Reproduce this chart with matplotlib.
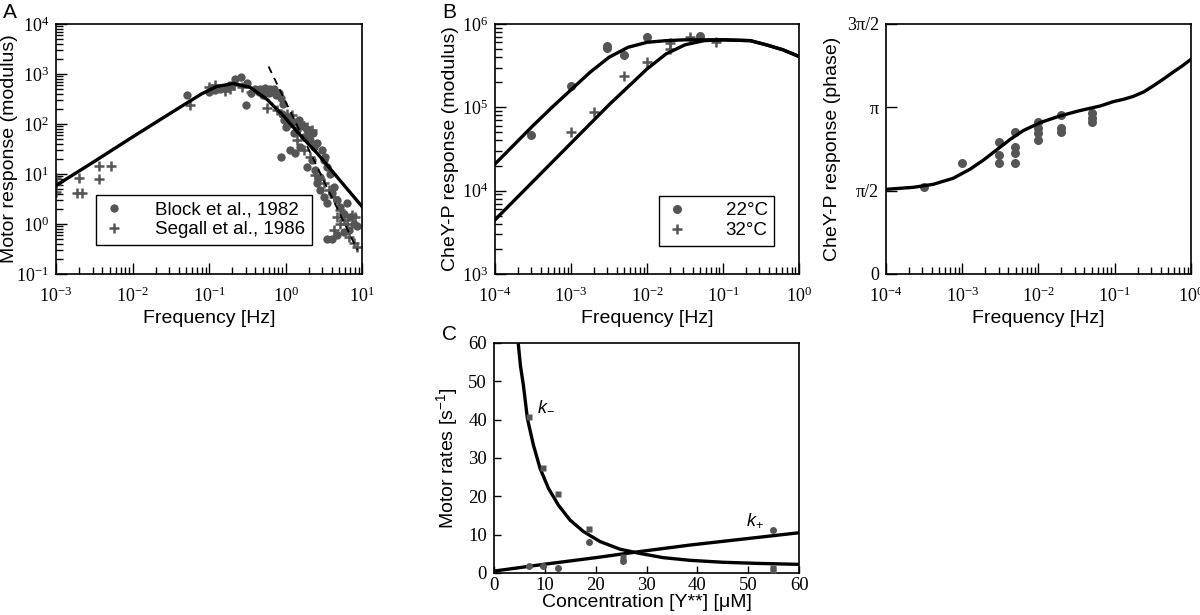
import numpy as np
import matplotlib
matplotlib.use("Agg")
import matplotlib.pyplot as plt
from matplotlib.ticker import LogLocator, NullFormatter, FixedLocator

SANS = "Liberation Sans"
SERIF = "Liberation Serif"
GREY = "#555555"
INK = "black"

plt.rcParams.update({
    "font.family": SANS,
    "mathtext.fontset": "custom",
    "mathtext.rm": SANS,
    "mathtext.it": SANS + ":italic",
    "axes.linewidth": 1.2,
})

# ---- panel A: motor response modulus ----
block_f = [0.052, 0.10, 0.12, 0.14, 0.17, 0.19, 0.22, 0.26, 0.31, 0.30,
           0.35, 0.40, 0.45, 0.47, 0.50, 0.54, 0.60, 0.63, 0.70, 0.71, 0.75, 0.81, 0.86, 0.93,
           0.90, 0.95, 1.0, 1.1, 1.16, 1.28, 1.3, 1.41, 1.5, 1.56, 1.7, 0.86, 1.16, 1.34,
           1.56, 1.73, 1.91, 2.0, 2.11, 2.3, 2.34, 2.58, 1.91, 2.22, 2.45, 2.58,
           2.86, 3.0, 3.16, 3.3, 3.49, 3.86, 2.86, 3.16, 3.49, 4.06, 4.27, 4.72,
           5.22, 5.77, 6.38, 7.05, 7.8, 3.49, 4.06, 4.72, 5.77, 6.7, 8.6]
block_r = [372, 427, 470, 490, 540, 600, 800, 880, 670, 245,
           410, 490, 440, 510, 380, 535, 420, 490, 500, 445, 380, 410, 325, 255,
           162, 120, 89, 100, 130, 65, 110, 76, 120, 95, 90, 22, 30, 26,
           35, 56, 76, 60, 48, 65, 35, 41, 14, 19, 12, 6.5,
           8.9, 30, 19, 22, 14, 10, 4.8, 3.5, 2.6, 4.1, 5.6, 3.0,
           2.2, 1.6, 2.6, 1.4, 1.0, 0.51, 0.51, 0.6, 0.7, 0.76, 0.9]
segall_f = [0.001, 0.001, 0.001, 0.0019, 0.0022, 0.0020, 0.0036, 0.0036, 0.0052,
            0.056, 0.10, 0.11, 0.12, 0.16, 0.19, 0.21, 0.27, 0.35,
            0.57, 0.77, 1.05, 1.22, 1.56, 1.91, 2.22, 1.41, 1.73, 2.11,
            2.45, 2.72, 3.16, 3.67, 4.27, 5.22, 4.72, 5.77, 6.38, 7.4,
            8.2, 4.27, 5.22, 6.7, 7.8, 8.6]
segall_r = [8.2, 6.3, 4.4, 4.1, 4.1, 8.2, 14.5, 7.8, 14.5,
            240, 560, 510, 600, 450, 490, 600, 560, 445,
            205, 190, 162, 150, 112, 89, 76, 48, 30, 22,
            9.5, 8.2, 6.5, 4.8, 3.5, 1.9, 1.4, 1.2, 1.0, 1.5,
            1.4, 0.76, 1.0, 0.56, 0.41, 0.35]
fit_a_logf = [-3.0, -2.5, -2.0, -1.5, -1.1, -0.9, -0.68, -0.46, -0.24, -0.02,
              0.19, 0.41, 0.63, 0.85, 1.0]
fit_a_logr = [0.77, 1.25, 1.74, 2.22, 2.60, 2.75, 2.81, 2.73, 2.49, 2.15,
              1.78, 1.42, 1.02, 0.62, 0.35]
dash_f = [0.60, 8.7]
dash_r = [1410, 0.30]

# ---- panel B: CheY-P response modulus ----
b22_f = [3.0e-4, 1e-3, 3e-3, 3e-3, 5e-3, 1e-2, 5e-2]
b22_r = [4.6e4, 1.8e5, 5.1e5, 5.4e5, 4.3e5, 6.9e5, 7.2e5]
b32_f = [1e-3, 2e-3, 5e-3, 1e-2, 2e-2, 2e-2, 3.7e-2, 8e-2]
b32_r = [5.0e4, 8.9e4, 2.4e5, 3.5e5, 5.0e5, 5.9e5, 6.9e5, 6.0e5]
fit22_logf = [-4.0, -3.75, -3.5, -3.25, -3.0, -2.75, -2.5, -2.25, -2.0, -1.75,
              -1.5, -1.0, -0.64, -0.43, -0.21, 0.0]
fit22_logr = [4.32, 4.55, 4.78, 5.00, 5.21, 5.42, 5.60, 5.72, 5.78, 5.80,
              5.81, 5.81, 5.80, 5.75, 5.69, 5.61]
fit32_logf = [-4.0, -3.5, -3.0, -2.5, -2.0, -1.75, -1.5, -1.25, -1.0, -0.64,
              -0.43, -0.21, 0.0]
fit32_logr = [3.65, 4.11, 4.57, 5.03, 5.46, 5.64, 5.75, 5.80, 5.81, 5.80,
              5.75, 5.69, 5.61]

# ---- panel B: phase (in units of pi/2) ----
ph_f = [3.2e-4, 1e-3, 3e-3, 3e-3, 3e-3, 4.9e-3, 4.9e-3, 4.9e-3, 4.9e-3,
        1e-2, 1e-2, 1e-2, 1e-2, 2e-2, 2e-2, 2e-2, 5e-2, 5e-2, 5e-2]
ph_val = [1.048, 1.328, 1.588, 1.428, 1.336, 1.708, 1.528, 1.448, 1.328,
          1.828, 1.748, 1.688, 1.608, 1.908, 1.748, 1.708, 1.928, 1.868, 1.820]
ph_fit_logf = [-4.0, -3.64, -3.38, -3.12, -2.90, -2.72, -2.55, -2.37, -2.20,
               -1.98, -1.72, -1.46, -1.19, -1.02, -0.89, -0.76, -0.62, -0.49,
               -0.36, -0.23, -0.11, 0.0]
ph_fit_val = [1.016, 1.040, 1.076, 1.148, 1.256, 1.368, 1.488, 1.616, 1.720,
              1.816, 1.896, 1.960, 2.016, 2.068, 2.095, 2.130, 2.185, 2.260,
              2.340, 2.425, 2.500, 2.576]
ph_ticks = [0, 1, 2, 3]
ph_labels = ["0", "π/2", "π", "3π/2"]

# ---- panel C: motor rates ----
km_conc = [6.9, 9.6, 12.5, 18.6, 25.4, 54.8, 54.8]
km_rate = [40.6, 27.5, 20.7, 11.6, 4.2, 1.3, 0.7]
kp_conc = [6.9, 9.6, 12.5, 18.6, 25.4, 54.8]
kp_rate = [1.8, 1.8, 1.3, 8.1, 3.05, 11.3]
km_fit_conc = [4.79, 5.2, 5.77, 6.56, 7.74, 9.05, 10.7, 12.66, 14.95, 17.6,
               20.85, 24.8, 28.7, 33.3, 38.6, 45.0, 52.0, 60.0]
km_fit_rate = [59.5, 54.0, 49.0, 40.3, 33.4, 27.3, 22.1, 17.7, 13.8, 10.8,
               8.2, 6.2, 5.1, 4.0, 3.3, 2.8, 2.5, 2.25]
kp_fit_conc = [0, 10, 20, 28.7, 38.6, 50, 60]
kp_fit_rate = [0.5, 2.3, 4.0, 5.6, 7.3, 9.0, 10.5]


def style(ax, log_x=True, log_y=False):
    if log_x:
        ax.set_xscale("log")
        ax.xaxis.set_major_locator(LogLocator(base=10, numticks=20))
        ax.xaxis.set_minor_locator(LogLocator(base=10, subs=np.arange(2, 10), numticks=20))
        ax.xaxis.set_minor_formatter(NullFormatter())
    if log_y:
        ax.set_yscale("log")
        ax.yaxis.set_major_locator(LogLocator(base=10, numticks=20))
        ax.yaxis.set_minor_locator(LogLocator(base=10, subs=np.arange(2, 10), numticks=20))
        ax.yaxis.set_minor_formatter(NullFormatter())
    ax.tick_params(which="both", direction="in", top=False, right=False,
                   labelsize=13, labelfontfamily=SERIF, width=1)
    ax.tick_params(axis="x", which="both", pad=9)
    ax.tick_params(axis="y", which="both", pad=5)
    ax.tick_params(which="major", length=8)
    ax.tick_params(which="minor", length=5)


fig = plt.figure(figsize=(12, 6.15), dpi=100)
ax_a = fig.add_axes([0.0467, 0.5545, 0.255, 0.4065])
ax_b = fig.add_axes([0.4125, 0.5545, 0.2533, 0.4065])
ax_p = fig.add_axes([0.7383, 0.5545, 0.2542, 0.4065])
ax_c = fig.add_axes([0.4117, 0.0683, 0.2542, 0.374])

# A
style(ax_a, log_x=True, log_y=True)
ax_a.plot(block_f, block_r, "o", color=GREY, ms=6, mec="none", label="Block et al., 1982")
ax_a.plot(segall_f, segall_r, "+", color=GREY, ms=7, mew=1.8, label="Segall et al., 1986")
ax_a.plot(10 ** np.array(fit_a_logf), 10 ** np.array(fit_a_logr), color=INK, lw=2.4)
ax_a.plot(dash_f, dash_r, "--", color=INK, lw=1.3, dashes=(4, 3))
ax_a.set_xlim(1e-3, 1e1)
ax_a.set_ylim(1e-1, 1e4)
ax_a.set_xlabel("Frequency [Hz]", fontsize=14, labelpad=3)
ax_a.set_ylabel("Motor response (modulus)", fontsize=14, labelpad=-1)
leg = ax_a.legend(loc="lower left", bbox_to_anchor=(0.13, 0.116), borderaxespad=0,
                  fontsize=13.5, frameon=True, fancybox=False, framealpha=1,
                  edgecolor=INK, handletextpad=1.6, borderpad=0.35, labelspacing=0.15,
                  handlelength=1.2)
leg.get_frame().set_linewidth(1.0)

# B modulus
style(ax_b, log_x=True, log_y=True)
ax_b.plot(b22_f, b22_r, "o", color=GREY, ms=6.5, mec="none", label="22°C")
ax_b.plot(b32_f, b32_r, "+", color=GREY, ms=7.5, mew=1.8, label="32°C")
ax_b.plot(10 ** np.array(fit22_logf), 10 ** np.array(fit22_logr), color=INK, lw=2.4)
ax_b.plot(10 ** np.array(fit32_logf), 10 ** np.array(fit32_logr), color=INK, lw=2.4)
ax_b.set_xlim(1e-4, 1e0)
ax_b.set_ylim(1e3, 1e6)
ax_b.set_xlabel("Frequency [Hz]", fontsize=14, labelpad=3)
ax_b.set_ylabel("CheY-P response (modulus)", fontsize=14, labelpad=2)
leg = ax_b.legend(loc="lower left", bbox_to_anchor=(0.54, 0.112), borderaxespad=0,
                  fontsize=13.5, frameon=True, fancybox=False, framealpha=1,
                  edgecolor=INK, handletextpad=2.0, borderpad=0.35, labelspacing=0.15,
                  handlelength=1.2)
leg.get_frame().set_linewidth(1.0)

# B phase
style(ax_p, log_x=True)
ax_p.plot(ph_f, np.array(ph_val) * np.pi / 2, "o", color=GREY, ms=6.5, mec="none")
ax_p.plot(10 ** np.array(ph_fit_logf), np.array(ph_fit_val) * np.pi / 2, color=INK, lw=2.4)
ax_p.set_xlim(1e-4, 1e0)
ax_p.set_ylim(0, 3 * np.pi / 2)
ax_p.yaxis.set_major_locator(FixedLocator([t * np.pi / 2 for t in ph_ticks]))
ax_p.set_yticklabels(ph_labels)
ax_p.set_xlabel("Frequency [Hz]", fontsize=14, labelpad=3)
ax_p.set_ylabel("CheY-P response (phase)", fontsize=14, labelpad=4)

# C
style(ax_c, log_x=False)
ax_c.tick_params(which="both", length=5, labelsize=13.5)
ax_c.tick_params(axis="x", pad=3)
ax_c.plot(km_fit_conc, km_fit_rate, color=INK, lw=2.4, zorder=2)
ax_c.plot(kp_fit_conc, kp_fit_rate, color=INK, lw=2.4, zorder=2)
ax_c.plot(km_conc, km_rate, "s", color=GREY, ms=4.5, mec="none", zorder=3)
ax_c.plot(kp_conc, kp_rate, "o", color=GREY, ms=5, mec="none", zorder=3)
ax_c.text(8.4, 42.5, r"$k_{-}$", fontsize=13)
ax_c.text(49.5, 12.5, r"$k_{+}$", fontsize=13)
ax_c.set_xlim(0, 60)
ax_c.set_ylim(0, 60)
ax_c.set_xticks(range(0, 61, 10))
ax_c.set_yticks(range(0, 61, 10))
ax_c.set_xlabel("Concentration [Y**] [μM]", fontsize=14, labelpad=0)
ax_c.set_ylabel(r"Motor rates [s$^{\mathregular{-1}}$]", fontsize=14, labelpad=6)

fig.text(3 / 1200, 1 - 3 / 615, "A", fontsize=15, va="top", ha="left")
fig.text(442 / 1200, 1 - 3 / 615, "B", fontsize=15, va="top", ha="left")
fig.text(442 / 1200, 1 - 325 / 615, "C", fontsize=15, va="top", ha="left")

fig.savefig("out.png", dpi=100)
